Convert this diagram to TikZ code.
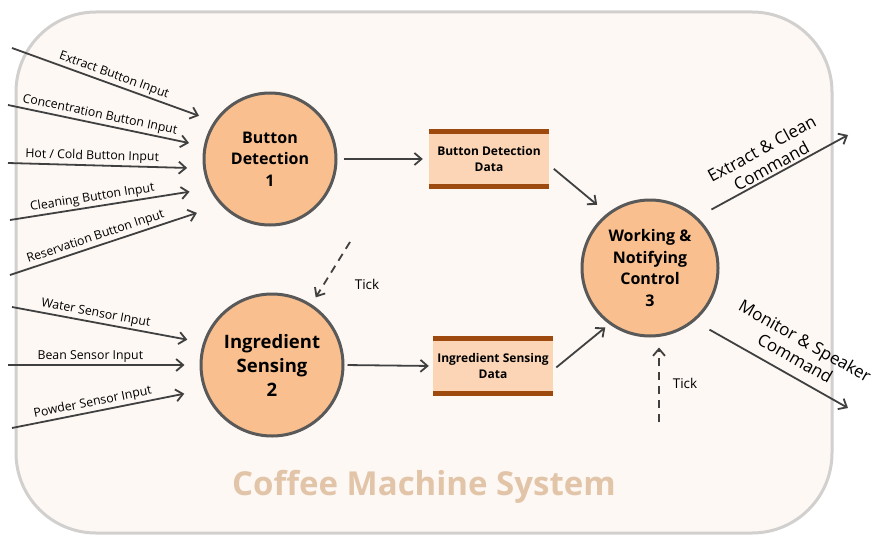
\documentclass[tikz,border=0pt]{standalone}
\usepackage{fontspec}
\setmainfont{Open Sans}
\usetikzlibrary{arrows.meta}
\definecolor{panelfill}{HTML}{FDF8F4}
\definecolor{panelline}{HTML}{D2D0CE}
\definecolor{procfill}{HTML}{F9BF8F}
\definecolor{procline}{HTML}{595959}
\definecolor{storefill}{HTML}{FBD5B5}
\definecolor{storebar}{HTML}{9E4A0E}
\definecolor{arrowgray}{HTML}{404040}
\definecolor{titletan}{HTML}{E2C5A8}
\begin{document}
\begin{tikzpicture}[x=1pt, y=-1pt,
    >={Straight Barb[length=7pt,width=12pt]},
    flow/.style={->, draw=arrowgray, line width=1.8pt},
    tickflow/.style={flow, dash pattern=on 8pt off 6pt},
    proc/.style={circle, draw=procline, line width=3pt, fill=procfill,
      align=center, inner sep=0pt, font=\bfseries\fontsize{16}{21.5}\selectfont},
    store/.style={rectangle, fill=storefill, minimum width=120pt, minimum height=60pt,
      inner sep=0pt, align=center, font=\bfseries\fontsize{12}{16.5}\selectfont,
      path picture={
        \fill[storebar] (path picture bounding box.north west) rectangle ([yshift=-5pt]path picture bounding box.north east);
        \fill[storebar] (path picture bounding box.south west) rectangle ([yshift=5pt]path picture bounding box.south east);}},
    inlabel/.style={sloped, above, inner sep=2pt, font=\fontsize{12.3}{15}\selectfont},
    cmdlabel/.style={sloped, above, align=center, inner sep=2pt, font=\fontsize{17}{20}\selectfont},
    ticklabel/.style={font=\fontsize{13.5}{16}\selectfont}]
  \useasboundingbox (0,0) rectangle (872,535);
  % system boundary
  \draw[fill=panelfill, draw=panelline, line width=3pt, rounded corners=80pt] (16,12) rectangle (832,533);
  \node[font=\bfseries\fontsize{33}{38}\selectfont, text=titletan] (title) at (424,487) {Coffee Machine System};
  % processes
  \node[proc, minimum size=132pt] (proc_btn) at (270,159) {Button\\Detection\\1};
  \node[proc, minimum size=142pt, font=\bfseries\fontsize{18.5}{24}\selectfont] (proc_ing) at (272,365) {Ingredient\\Sensing\\2};
  \node[proc, minimum size=136pt] (proc_ctl) at (650,268) {Working \&\\Notifying\\Control\\3};
  % data stores
  \node[store] (store_btn) at (489,159) {Button Detection\\Data};
  \node[store] (store_ing) at (493,366) {Ingredient Sensing\\Data};
  % button inputs
  \coordinate (in_extract) at (12,48);
  \coordinate (in_conc) at (8,105);
  \coordinate (in_hot) at (8,163);
  \coordinate (in_clean) at (10,220);
  \coordinate (in_resv) at (10,275);
  \draw[flow, shorten >=16pt] (in_extract) -- node[inlabel, pos=0.49]{Extract Button Input} (proc_btn.146);
  \draw[flow, shorten >=15pt] (in_conc) -- node[inlabel, pos=0.46]{Concentration Button Input} (proc_btn.169);
  \draw[flow, shorten >=16pt] (in_hot) -- node[inlabel, pos=0.43]{Hot / Cold Button Input} (proc_btn.188);
  \draw[flow, shorten >=20pt] (in_clean) -- node[inlabel, pos=0.42]{Cleaning Button Input} (proc_btn.206);
  \draw[flow, shorten >=25pt] (in_resv) -- node[inlabel, pos=0.42]{Reservation Button Input} (proc_btn.223);
  % sensor inputs
  \coordinate (in_water) at (12,307);
  \coordinate (in_bean) at (8,365);
  \coordinate (in_powder) at (12,428);
  \draw[flow, shorten >=16pt] (in_water) -- node[inlabel, pos=0.43]{Water Sensor Input} (proc_ing.162);
  \draw[flow, shorten >=15pt] (in_bean) -- node[inlabel, pos=0.43]{Bean Sensor Input} (proc_ing.180);
  \draw[flow, shorten >=20pt] (in_powder) -- node[inlabel, pos=0.43]{Powder Sensor Input} (proc_ing.200);
  % data flows
  \draw[flow, shorten <=6pt, shorten >=6pt] (proc_btn.east) -- (store_btn.west);
  \draw[flow, shorten <=3pt, shorten >=4pt] (proc_ing.east) -- (store_ing.west);
  \draw[flow, shorten <=6pt, shorten >=13pt] ([yshift=-6pt]store_btn.east) -- (proc_ctl.128);
  \draw[flow, shorten <=4pt, shorten >=5pt] ([yshift=-4pt]store_ing.east) -- (proc_ctl.234);
  % ticks
  \coordinate (tick_ing) at (350,242);
  \coordinate (tick_ctl) at (659,422);
  \draw[tickflow, shorten >=8pt] (tick_ing) -- (proc_ing.57);
  \draw[tickflow, shorten >=10pt] (tick_ctl) -- (tick_ctl |- proc_ctl.south);
  \node[ticklabel] (tick_lbl_ing) at (367,284) {Tick};
  \node[ticklabel] (tick_lbl_ctl) at (685,383) {Tick};
  % outputs
  \coordinate (out_extract) at (848,135);
  \coordinate (out_monitor) at (848,408);
  \draw[flow, shorten <=16pt] (proc_ctl.47) -- node[cmdlabel, pos=0.52]{Extract \& Clean\\Command} (out_extract);
  \draw[flow, shorten <=17pt] (proc_ctl.-50) -- node[cmdlabel, above=8pt, pos=0.6]{Monitor \& Speaker\\Command} (out_monitor);
\end{tikzpicture}
\end{document}
